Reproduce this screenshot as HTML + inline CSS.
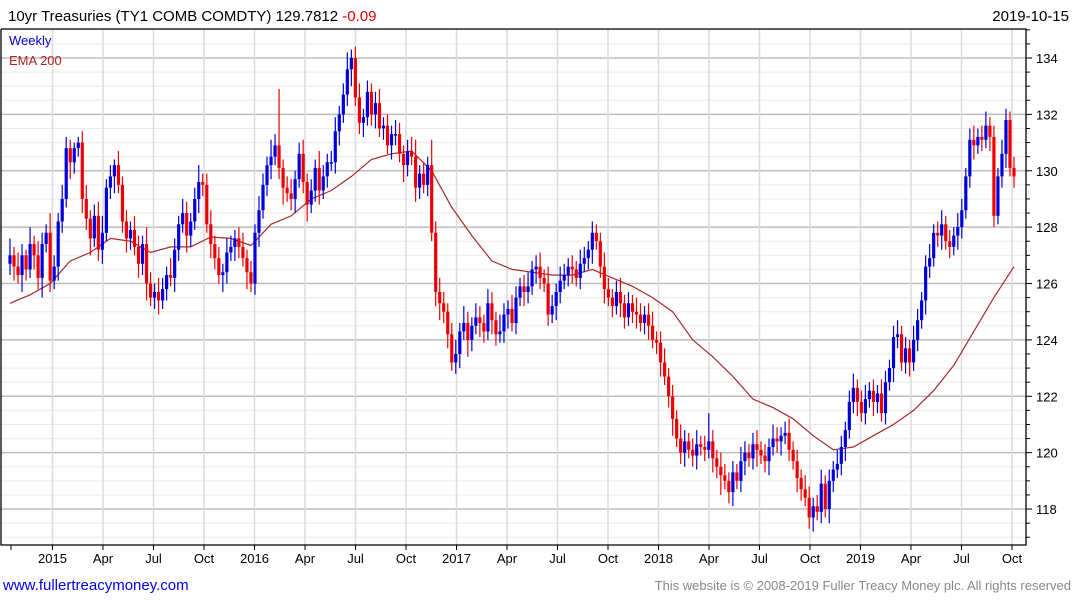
<!DOCTYPE html>
<html><head><meta charset="utf-8"><style>
body{margin:0;background:#fff;font-family:"Liberation Sans","DejaVu Sans",sans-serif;}
svg{display:block}
</style></head><body>
<svg id="chart" width="1075" height="600" font-family="Liberation Sans, DejaVu Sans, sans-serif">
<text x="8" y="21" font-size="15" fill="#000">10yr Treasuries (TY1 COMB COMDTY) 129.7812 <tspan fill="#e00000">-0.09</tspan></text>
<text x="1069" y="21" font-size="15" text-anchor="end" fill="#000">2019-10-15</text>
<g id="grid"></g>
<g id="ema"></g>
<g id="candles"></g>
<g id="axes"></g>
<text x="9" y="45" font-size="13" fill="#0000cc">Weekly</text>
<text x="9" y="65" font-size="13" fill="#b22222">EMA 200</text>
<text x="3" y="590" font-size="15" fill="#0000ee">www.fullertreacymoney.com</text>
<text x="1071" y="590" font-size="13" fill="#888" text-anchor="end">This website is © 2008-2019 Fuller Treacy Money plc. All rights reserved</text>
</svg>
<script>
const closes=[127.0,126.6,126.3,127.0,126.5,127.4,127.0,126.2,127.4,127.8,
126.1,126.6,128.2,129.0,130.8,130.3,130.8,131.0,129.0,128.3,
127.6,128.4,127.2,127.8,129.4,129.8,130.2,129.5,128.2,127.6,
127.9,127.3,126.7,127.4,126.0,125.5,125.7,125.4,125.8,126.3,
126.2,127.2,128.1,128.5,127.7,128.2,129.0,129.6,129.5,128.1,
127.4,126.9,126.3,126.4,127.1,127.3,127.6,127.3,126.9,126.4,
126.0,127.8,128.6,129.5,130.2,130.5,130.9,130.1,129.4,129.2,
129.0,129.7,130.6,129.6,128.8,129.3,130.1,129.3,129.8,130.3,
130.3,131.4,132.0,132.7,133.6,134.0,132.6,131.7,131.9,132.8,
132.0,132.4,131.5,131.6,130.9,131.3,131.3,130.6,130.2,130.7,
130.5,129.4,129.9,129.5,130.2,127.8,125.7,125.3,125.0,124.2,
123.2,123.5,124.3,124.6,124.0,124.5,124.8,124.6,124.3,125.3,
124.7,124.2,124.3,124.9,125.1,124.6,125.5,125.9,125.7,125.9,
126.5,126.6,126.2,126.0,124.9,125.2,125.7,126.1,126.3,126.6,
126.5,126.2,126.7,126.9,127.2,127.8,127.5,
126.6,125.8,125.5,125.2,125.7,125.3,124.8,125.3,125.0,124.9,
124.6,124.9,124.5,124.0,123.9,123.2,122.7,122.0,121.2,120.5,
120.0,120.4,120.1,119.9,120.3,120.2,120.1,120.4,119.8,119.5,
119.2,119.0,118.6,119.3,119.0,119.7,120.0,119.8,120.3,120.1,
119.9,119.7,120.2,120.5,120.4,120.6,120.7,120.1,119.7,119.1,
118.7,118.4,117.7,
118.1,117.9,118.9,118.0,119.0,119.4,119.6,120.2,120.8,121.8,
122.3,121.8,121.4,121.9,122.2,121.8,122.1,121.4,122.5,123.0,
124.1,124.2,123.2,123.7,123.2,124.0,124.7,125.4,126.6,126.9,
127.8,127.7,128.1,127.5,127.3,127.7,128.0,128.6,129.8,131.1,
130.9,131.2,131.1,131.6,131.2,128.4,129.8,130.6,131.8,130.1,129.8];
const highWick=[0.6,0.3,0.5,0.4,0.2,0.6,0.3,0.5,0.4,0.3,
0.7,0.4,0.3,0.5,0.4,0.3,0.2,0.2,0.4,0.5,
0.3,0.4,0.5,0.6,0.3,0.4,0.2,0.5,0.3,0.4,
0.3,0.5,0.4,0.3,0.6,0.4,0.3,0.5,0.4,0.3,
0.6,0.4,0.3,0.5,0.4,0.3,0.4,0.6,0.3,0.4,
0.5,0.3,0.4,0.3,0.5,0.4,0.3,0.4,0.5,0.3,
0.4,0.3,0.5,0.4,0.3,0.6,0.4,2.0,0.3,0.4,
0.5,0.3,0.4,0.5,0.3,0.4,0.3,0.6,0.4,0.3,
0.4,0.5,0.3,0.4,0.6,0.3,0.4,0.5,0.3,0.4,
0.3,0.4,0.5,0.3,0.4,0.3,0.5,0.4,0.3,0.4,
0.5,0.6,0.3,0.4,0.3,0.9,0.4,0.5,0.4,0.3,
0.4,0.5,0.3,0.6,0.4,0.3,0.5,0.4,0.3,0.5,
0.4,0.3,0.6,0.4,0.3,0.5,0.4,0.3,0.4,0.5,
0.3,0.4,0.5,0.3,0.6,0.4,0.3,0.5,0.4,0.3,
0.4,0.3,0.5,0.4,0.3,0.4,0.3,0.3,0.5,0.4,
0.3,0.4,0.5,0.3,0.4,0.3,0.5,0.4,0.3,0.4,
0.5,0.3,0.4,0.5,0.3,0.4,0.3,0.5,0.4,0.3,
0.4,0.5,0.3,0.4,1.0,0.4,0.3,0.5,0.4,0.3,
0.4,0.3,0.5,0.4,0.3,0.4,0.5,0.3,0.4,0.3,
0.5,0.4,0.3,0.4,0.5,0.3,0.4,0.3,0.5,0.4,
0.3,0.4,0.5,0.3,0.4,0.3,0.5,0.4,0.3,0.4,
0.5,0.3,0.4,0.5,0.3,0.4,0.3,0.5,0.4,0.3,
0.4,0.5,0.3,0.4,0.3,0.5,0.4,0.3,0.4,0.5,
0.3,0.4,0.5,0.3,0.4,0.3,0.5,0.4,0.3,0.4,
0.5,0.3,0.4,0.5,0.3,0.4,0.3,0.5,0.4,0.3,0.4];
const lowWick=[0.4,0.5,0.3,0.6,0.4,0.3,0.5,0.4,0.7,0.3,
0.4,0.3,0.5,0.4,0.3,0.6,0.4,0.3,0.5,0.4,
0.6,0.3,0.4,0.5,0.3,0.4,0.6,0.3,0.4,0.5,
0.4,0.3,0.5,0.4,0.6,0.3,0.4,0.5,0.3,0.4,
0.3,0.5,0.4,0.3,0.6,0.4,0.3,0.5,0.4,0.3,
0.5,0.4,0.3,0.6,0.4,0.3,0.5,0.4,0.3,0.6,
0.3,0.4,0.5,0.3,0.4,0.5,0.3,0.4,0.6,0.3,
0.4,0.5,0.3,0.4,0.6,0.3,0.4,0.5,0.3,0.4,
0.3,0.4,0.5,0.3,0.4,0.6,0.3,0.4,0.5,0.3,
0.4,0.5,0.3,0.4,0.3,0.5,0.4,0.3,0.6,0.4,
0.3,0.5,0.4,0.3,0.4,0.3,0.5,0.6,0.4,0.5,
0.3,0.4,0.5,0.3,0.6,0.4,0.3,0.5,0.4,0.3,
0.5,0.4,0.3,0.4,0.5,0.3,0.4,0.3,0.5,0.4,
0.3,0.5,0.4,0.3,0.4,0.3,0.5,0.4,0.3,0.4,
0.5,0.3,0.4,0.3,0.4,0.5,0.3,0.4,0.5,0.3,
0.4,0.3,0.5,0.4,0.3,0.4,0.5,0.3,0.4,0.5,
0.3,0.4,0.5,0.3,0.4,0.6,0.3,0.4,0.5,0.3,
0.4,0.5,0.3,0.4,0.3,0.5,0.4,0.7,0.3,0.4,
0.5,0.3,0.4,0.5,0.3,0.4,0.6,0.3,0.4,0.5,
0.3,0.4,0.5,0.3,0.4,0.3,0.5,0.4,0.3,0.4,
0.5,0.3,0.4,0.3,0.5,0.4,0.3,0.4,0.5,0.3,
0.4,0.5,0.3,0.4,0.3,0.5,0.4,0.3,0.4,0.3,
0.5,0.4,0.3,0.4,0.5,0.3,0.4,0.3,0.5,0.4,
0.3,0.4,0.5,0.3,0.4,0.3,0.5,0.4,0.3,0.4,
0.5,0.3,0.4,0.3,0.5,0.4,0.3,0.4,0.5,0.3,0.4];
const emaEvery5=[125.3,125.6,126.0,126.8,127.1,127.6,127.5,127.1,127.3,127.3,
127.65,127.6,127.35,128.1,128.4,129.0,129.3,129.8,130.4,130.6,
130.7,130.0,128.7,127.7,126.8,126.5,126.4,126.3,126.3,126.5,
126.2,125.9,125.5,125.0,124.0,123.4,122.7,121.9,121.6,121.2,
120.6,120.1,120.2,120.6,121.0,121.5,122.2,123.1,124.3,125.5,126.6];
const yTicks=[118,120,122,124,126,128,130,132,134];
const xLabels=["2015","Apr","Jul","Oct","2016","Apr","Jul","Oct","2017","Apr","Jul","Oct","2018","Apr","Jul","Oct","2019","Apr","Jul","Oct"];

const NS="http://www.w3.org/2000/svg";
const L=1,R=1026,T=29,B=545;
const X0=10,X1=1014;
function yScale(v){return 58+(134-v)*28.19;}
function xScale(i){return X0+i*(X1-X0)/(closes.length-1);}
function qx(k){return 52.5+k*50.5;}
function mk(tag,attrs,parent){const e=document.createElementNS(NS,tag);for(const k in attrs)e.setAttribute(k,attrs[k]);parent.appendChild(e);return e;}
const grid=document.getElementById('grid'),axes=document.getElementById('axes'),cg=document.getElementById('candles'),eg=document.getElementById('ema');
// minor horizontal grid
for(let v=117;v<=135;v+=0.5){const y=yScale(v);if(y<T||y>B)continue;
  const isMaj=yTicks.includes(v);
  const ln=mk('line',{x1:L,x2:R,y1:y,y2:y,stroke:isMaj?'#bdbdbd':'#ebebeb','stroke-width':isMaj?1.5:1},grid);
  
  
  const t=mk('line',{x1:R,x2:R+(isMaj?6:4),y1:y,y2:y,stroke:'#000'},axes);
  
  
}
yTicks.forEach(v=>{const y=yScale(v);
  const t=mk('text',{x:R+10,y:y+5,'font-size':13,fill:'#000'},axes);t.textContent=v;
  
  
});
xLabels.forEach((lab,k)=>{const x=qx(k);
  const g=mk('line',{x1:x,x2:x,y1:T,y2:B,stroke:'#dcdcdc','stroke-width':1.5},grid);
  
  
  const t=mk('line',{x1:x,x2:x,y1:B,y2:B+5,stroke:'#000'},axes);
  
  
  const tx=mk('text',{x:x,y:563,'font-size':13,'text-anchor':'middle',fill:'#000'},axes);tx.textContent=lab;
  
  
});
{const t=mk('line',{x1:11,x2:11,y1:B,y2:B+5,stroke:'#000'},axes);
 
 }
const frame=mk('polyline',{points:`${L},${T} ${R},${T} ${R},${B} ${L},${B} ${L},${T}`,fill:'none',stroke:'#000','stroke-width':1.3},axes);


// EMA
let pts=emaEvery5.map((v,j)=>`${xScale(j*5).toFixed(1)},${yScale(v).toFixed(1)}`).join(' ');
const pl=mk('polyline',{points:pts,fill:'none',stroke:'#a52a2a','stroke-width':1.2},eg);


// candles
closes.forEach((c,i)=>{
  const o=i>0?closes[i-1]:c-0.3;
  const col=c>=o?'#0000dd':'#ee0000';
  const hi=Math.max(o,c)+highWick[i], lo=Math.min(o,c)-lowWick[i];
  const x=xScale(i);
  const g=mk('g',{},cg);
  
  
  mk('line',{x1:x,x2:x,y1:yScale(hi),y2:yScale(lo),stroke:col,'stroke-width':1.2},g);
  const yt=yScale(Math.max(o,c)),yb=yScale(Math.min(o,c));
  mk('rect',{x:x-1.6,y:yt,width:3.2,height:Math.max(1.5,yb-yt),fill:col},g);
});
</script>
</body></html>
